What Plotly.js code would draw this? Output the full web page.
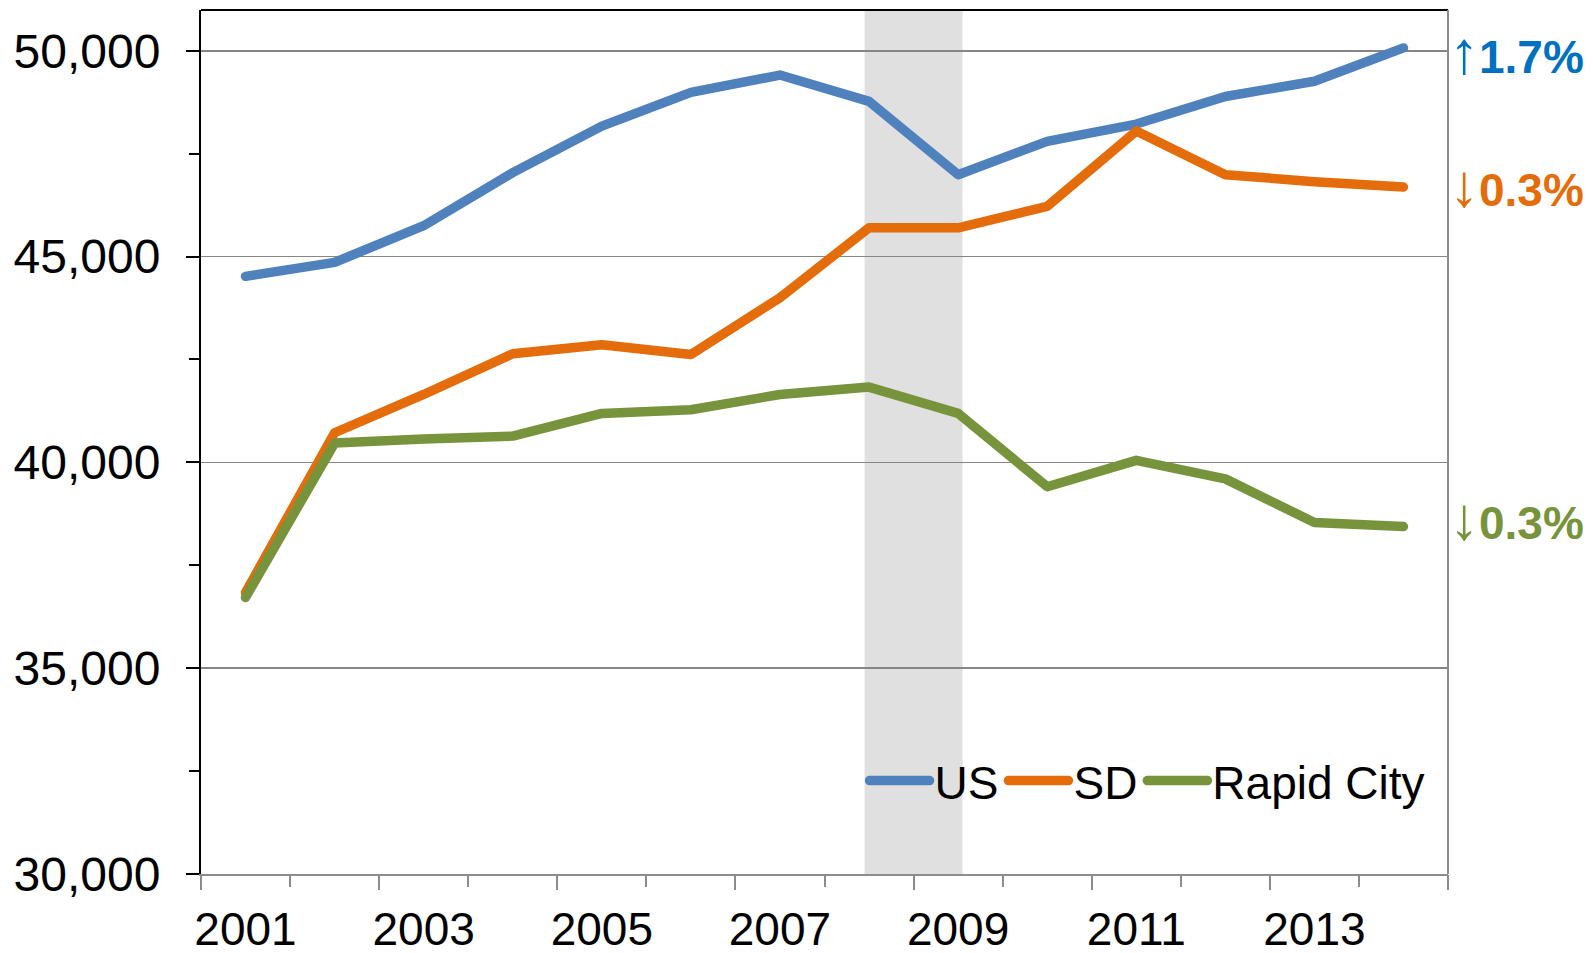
<!DOCTYPE html>
<html>
<head>
<meta charset="utf-8">
<script src="https://cdn.plot.ly/plotly-3.0.1.min.js"></script>
<style>
html,body{margin:0;padding:0;background:#fff;}
#chart{width:1593px;height:953px;}
path.js-line{stroke-linecap:round !important;stroke-linejoin:round !important;}
</style>
</head>
<body>
<div id="chart"></div>
<script>
const years = [2001,2002,2003,2004,2005,2006,2007,2008,2009,2010,2011,2012,2013,2014];
const usValues = [44520,44860,45750,47040,48170,48990,49410,48770,46990,47800,48220,48890,49260,50070];
const sdValues = [36840,40720,41650,42640,42860,42620,44000,45700,45700,46220,48050,46990,46820,46690];
const rapidCityValues = [36720,40470,40570,40640,41190,41280,41650,41830,41190,39410,40050,39600,38540,38440];
const tickYears = [2001,2003,2005,2007,2009,2011,2013];
const tickLabels = ["2001","2003","2005","2007","2009","2011","2013"];
const longTickPositions = [2000.5,2002.5,2004.5,2006.5,2008.5,2010.5,2012.5,2014.5];
const yTicks = [30000,35000,40000,45000,50000];
const yTickLabels = ["30,000","35,000","40,000","45,000","50,000"];
const recession = [2007.95, 2009.05];
const changeLabels = [
  {arrow:"↑", text:"1.7%", color:"#0070C0", y:49950},
  {arrow:"↓", text:"0.3%", color:"#E46C0A", y:46720},
  {arrow:"↓", text:"0.3%", color:"#77933C", y:38640}
];

const font = "Liberation Sans, Arial, sans-serif";
const traces = [
  {x:years, y:usValues, name:"US", mode:"lines", line:{color:"#4F81BD", width:9.5}},
  {x:years, y:sdValues, name:"SD", mode:"lines", line:{color:"#E46C0A", width:9.5}},
  {x:years, y:rapidCityValues, name:"Rapid City", mode:"lines", line:{color:"#77933C", width:9.5}}
];

const layout = {
  width:1593, height:953,
  margin:{l:201, r:145, t:10, b:79},
  paper_bgcolor:"#fff", plot_bgcolor:"rgba(0,0,0,0)",
  font:{family:font, size:46, color:"#000"},
  showlegend:true,
  legend:{orientation:"h", x:0.986, xanchor:"right", y:0.108, yanchor:"middle",
          bgcolor:"rgba(0,0,0,0)", font:{size:46, family:font}, itemwidth:60, tracegroupgap:0},
  xaxis:{
    range:[2000.5, 2014.5], tickmode:"array", tickvals:tickYears, ticktext:tickLabels,
    ticks:"", showgrid:false, zeroline:false, showline:true, linecolor:"#8c8c8c", linewidth:2,
    ticklabelstandoff:14,
    minor:{tick0:2000.5, dtick:1, ticks:"outside", ticklen:11, tickcolor:"#8c8c8c", tickwidth:2, showgrid:false},
    tickfont:{size:46, family:font}
  },
  xaxis2:{
    overlaying:"x", anchor:"y", side:"bottom", range:[2000.5, 2014.5],
    tickmode:"array", tickvals:longTickPositions, showticklabels:false,
    ticks:"outside", ticklen:15, tickcolor:"#8c8c8c", tickwidth:2,
    showgrid:false, zeroline:false, showline:false
  },
  yaxis:{
    range:[30000, 50991], tickmode:"array", tickvals:yTicks, ticktext:yTickLabels,
    ticks:"outside", ticklen:13, tickwidth:2, tickcolor:"#000",
    showgrid:true, gridcolor:"#868686", gridwidth:1.5, zeroline:false,
    showline:true, linecolor:"#000", linewidth:2,
    minor:{tick0:30000, dtick:2500, ticks:"outside", ticklen:10, tickcolor:"#000", tickwidth:2, showgrid:false},
    tickfont:{size:48, family:font}, ticklabelstandoff:16
  },
  shapes:[
    {type:"rect", xref:"x", yref:"paper", x0:recession[0], x1:recession[1], y0:0, y1:1,
     fillcolor:"#e0e0e0", line:{width:0}, layer:"below"},
    {type:"line", xref:"paper", yref:"paper", x0:0, x1:1, y0:1, y1:1, line:{color:"#000", width:2}},
    {type:"line", xref:"paper", yref:"paper", x0:1, x1:1, y0:0, y1:1, line:{color:"#8c8c8c", width:2}}
  ],
  annotations: changeLabels.map(c => ({
    xref:"paper", yref:"y", x:0.999, y:c.y, xanchor:"left", yanchor:"middle", showarrow:false,
    text:'<span style="font-weight:normal;font-size:60px">'+c.arrow+'</span><b>'+c.text+'</b>',
    font:{size:46, color:c.color, family:font}
  }))
};

const tickTrace = {x:[2001], y:[null], xaxis:"x2", yaxis:"y", mode:"lines", showlegend:false, hoverinfo:"skip"};

Plotly.newPlot("chart", traces.concat([tickTrace]), layout, {displayModeBar:false, staticPlot:true});
</script>
</body>
</html>
